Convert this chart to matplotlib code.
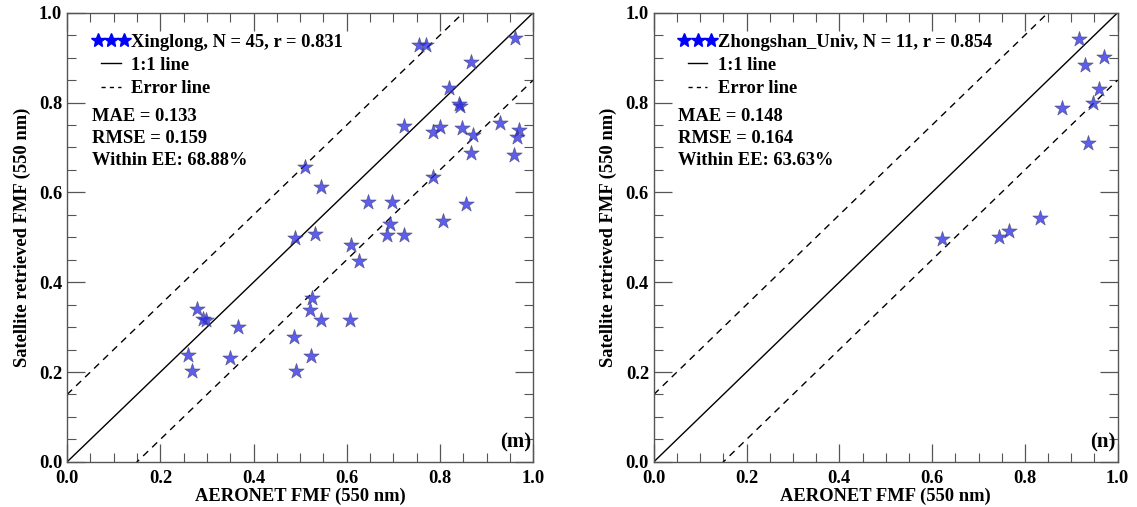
import matplotlib
matplotlib.use('Agg')
import matplotlib.pyplot as plt
from matplotlib.lines import Line2D
from matplotlib.legend_handler import HandlerLine2D
from matplotlib.ticker import MultipleLocator, FormatStrFormatter
import numpy as np

plt.rcParams['font.family'] = ['Liberation Serif', 'DejaVu Serif']
plt.rcParams['font.weight'] = 'bold'
plt.rcParams['axes.labelweight'] = 'bold'

# Xinglong site (panel m)
xinglong_x = [0.961, 0.755, 0.770, 0.866, 0.820, 0.841, 0.843, 0.723, 0.786, 0.799,
              0.848, 0.870, 0.928, 0.969, 0.965, 0.958, 0.866, 0.785, 0.511, 0.544,
              0.646, 0.698, 0.855, 0.807, 0.693, 0.687, 0.722, 0.531, 0.489, 0.610,
              0.627, 0.525, 0.521, 0.544, 0.607, 0.278, 0.297, 0.292, 0.366, 0.259,
              0.267, 0.350, 0.487, 0.490, 0.524]
xinglong_y = [0.944, 0.929, 0.927, 0.890, 0.832, 0.797, 0.793, 0.748, 0.734, 0.745,
              0.743, 0.727, 0.754, 0.739, 0.723, 0.684, 0.688, 0.635, 0.656, 0.611,
              0.579, 0.578, 0.573, 0.537, 0.530, 0.504, 0.506, 0.507, 0.498, 0.483,
              0.447, 0.365, 0.338, 0.316, 0.316, 0.340, 0.316, 0.319, 0.301, 0.238,
              0.203, 0.231, 0.277, 0.202, 0.236]

# Zhongshan_Univ site (panel n)
zhongshan_x = [0.917, 0.971, 0.929, 0.960, 0.947, 0.879, 0.935, 0.622, 0.744, 0.765, 0.833]
zhongshan_y = [0.941, 0.901, 0.884, 0.829, 0.799, 0.788, 0.710, 0.496, 0.500, 0.513, 0.543]

sites = ['Xinglong', 'Zhongshan_Univ']
n_points = [45, 11]
r_values = ['0.831', '0.854']
mae_values = ['0.133', '0.148']
rmse_values = ['0.159', '0.164']
ee_values = ['68.88%', '63.63%']
panel_labels = ['(m)', '(n)']
ee_offset = 0.15

fig = plt.figure(figsize=(11.37, 5.07), dpi=100)
ax_left = fig.add_axes([0.059, 0.089, 0.41, 0.886])
ax_right = fig.add_axes([0.575, 0.089, 0.408, 0.886])

datasets = [(xinglong_x, xinglong_y), (zhongshan_x, zhongshan_y)]
line_x = np.array([0.0, 1.0])
dash = (0, (5, 4))
fs = 13.3

for i, ax in enumerate([ax_left, ax_right]):
    xs, ys = datasets[i]
    ax.plot(line_x, line_x, color='black', lw=1.0, zorder=2)
    ax.plot(line_x, line_x + ee_offset, color='black', lw=1.0, ls=dash, zorder=2)
    ax.plot(line_x, line_x - ee_offset, color='black', lw=1.0, ls=dash, zorder=2)
    ax.scatter(xs, ys, marker='*', s=135, facecolor='#2828e8', alpha=0.75,
               edgecolor='#444466', linewidths=0.5, zorder=3)

    ax.set_xlim(0, 1)
    ax.set_ylim(0, 1)
    ax.xaxis.set_major_locator(MultipleLocator(0.2))
    ax.xaxis.set_minor_locator(MultipleLocator(0.05))
    ax.yaxis.set_major_locator(MultipleLocator(0.2))
    ax.yaxis.set_minor_locator(MultipleLocator(0.05))
    ax.tick_params(which='both', direction='in', top=True, right=True, color='#555555',
                   labelsize=fs)
    ax.tick_params(which='major', length=13, width=0.9)
    ax.tick_params(which='minor', length=6.5, width=0.8)
    ax.tick_params(axis='x', pad=6)
    ax.xaxis.set_major_formatter(FormatStrFormatter('%.1f'))
    ax.yaxis.set_major_formatter(FormatStrFormatter('%.1f'))
    for sp in ax.spines.values():
        sp.set_color('#555555')
        sp.set_linewidth(1.0)

    ax.set_xlabel('AERONET FMF (550 nm)', fontsize=fs, labelpad=0)
    ax.set_ylabel('Satellite retrieved FMF (550 nm)', fontsize=fs, labelpad=6)

    star_handle = Line2D([], [], marker='*', color='blue', ls='None', markersize=10)
    handles = [
        star_handle,
        Line2D([], [], color='black', lw=1.0),
        Line2D([], [], color='black', lw=1.0, ls=(0, (3, 3))),
    ]
    labels = ['%s, N = %d, r = %s' % (sites[i], n_points[i], r_values[i]),
              '1:1 line', 'Error line']
    ax.legend(handles, labels, loc='upper left', bbox_to_anchor=(0.026, 0.99),
              frameon=False, numpoints=3, handlelength=1.65, handletextpad=0.27,
              labelspacing=0.33, borderaxespad=0.5, fontsize=fs,
              handler_map={star_handle: HandlerLine2D(numpoints=3, marker_pad=0.1)})

    ax.text(0.053, 0.769, 'MAE = ' + mae_values[i], transform=ax.transAxes,
            fontsize=fs, va='center')
    ax.text(0.053, 0.720, 'RMSE = ' + rmse_values[i], transform=ax.transAxes,
            fontsize=fs, va='center')
    ax.text(0.053, 0.671, 'Within EE: ' + ee_values[i], transform=ax.transAxes,
            fontsize=fs, va='center')
    ax.text(0.995, 0.022, panel_labels[i], transform=ax.transAxes, fontsize=15,
            ha='right', va='bottom')

fig.savefig('out.png', dpi=100)
